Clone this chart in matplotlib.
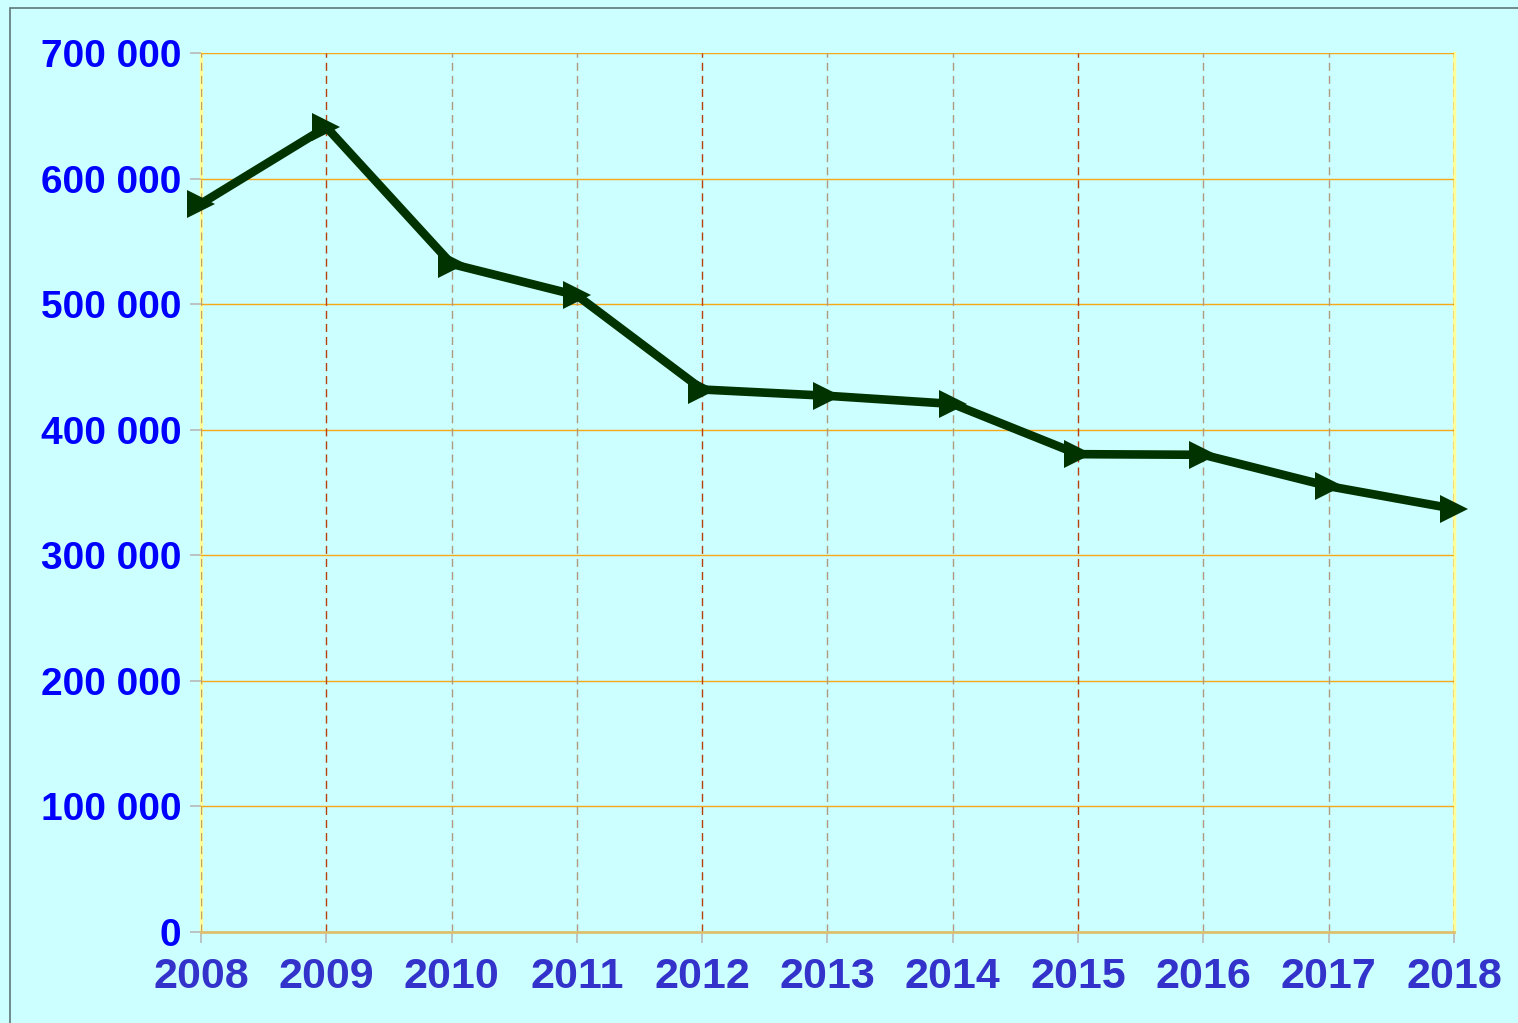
import matplotlib
matplotlib.use('Agg')
import matplotlib.pyplot as plt
from matplotlib.ticker import FuncFormatter, MultipleLocator
from matplotlib.patches import Rectangle

plt.rcParams['font.family'] = ['Liberation Sans', 'DejaVu Sans']

years = [2008, 2009, 2010, 2011, 2012, 2013, 2014, 2015, 2016, 2017, 2018]
values = [580000, 641000, 532000, 507000, 432000, 427000, 420500, 380500, 380000, 355000, 337000]

fig = plt.figure(figsize=(15.18, 10.23), dpi=100, facecolor='#ccffff')
ax = fig.add_axes([0.1324, 0.0890, 0.8254, 0.8592])
ax.set_facecolor('#ccffff')

# chart border
fig.patches.append(Rectangle((10 / 1518, -0.1), 1.2, 1 - 8 / 1023 + 0.1,
                             transform=fig.transFigure, fill=False,
                             edgecolor='#5f7575', linewidth=1.2))

ax.set_xlim(2008, 2018)
ax.set_ylim(0, 700000)
ax.set_xticks(years)
ax.yaxis.set_major_locator(MultipleLocator(100000))
ax.yaxis.set_major_formatter(FuncFormatter(lambda v, p: f'{int(v):,}'.replace(',', ' ')))

# horizontal grid
for v in range(100000, 700001, 100000):
    ax.axhline(v, color='#f5a818', linewidth=1.0, zorder=1)

# vertical dashed grid, red every 3 years
for i, yr in enumerate(years):
    c = '#b8400c' if i % 3 == 1 else '#b09a80'
    if i == 0:
        c = '#c0a070'
    ax.axvline(yr, color=c, linewidth=1.0, linestyle=(0, (5.8, 3.6)), zorder=2)

ax.spines['top'].set_visible(False)
for s in ['left', 'right']:
    ax.spines[s].set_color('#ffff99')
    ax.spines[s].set_linewidth(2.5)
    ax.spines[s].set_zorder(0.5)
ax.spines['bottom'].set_color('#dcc070')
ax.spines['bottom'].set_linewidth(2.0)

ax.tick_params(axis='both', colors='#b8b8b8', length=8, width=1.2)
ax.tick_params(axis='y', labelcolor='#0000ff', labelsize=28, pad=6)
ax.tick_params(axis='x', labelcolor='#3333cc', labelsize=31, pad=10)
for lab in ax.get_xticklabels() + ax.get_yticklabels():
    lab.set_fontweight('bold')

ax.plot(years, values, color='#003300', linewidth=6.2, marker='>', markersize=20,
        markeredgewidth=0, zorder=5, clip_on=False)

fig.savefig('out.png', dpi=100, facecolor=fig.get_facecolor())
